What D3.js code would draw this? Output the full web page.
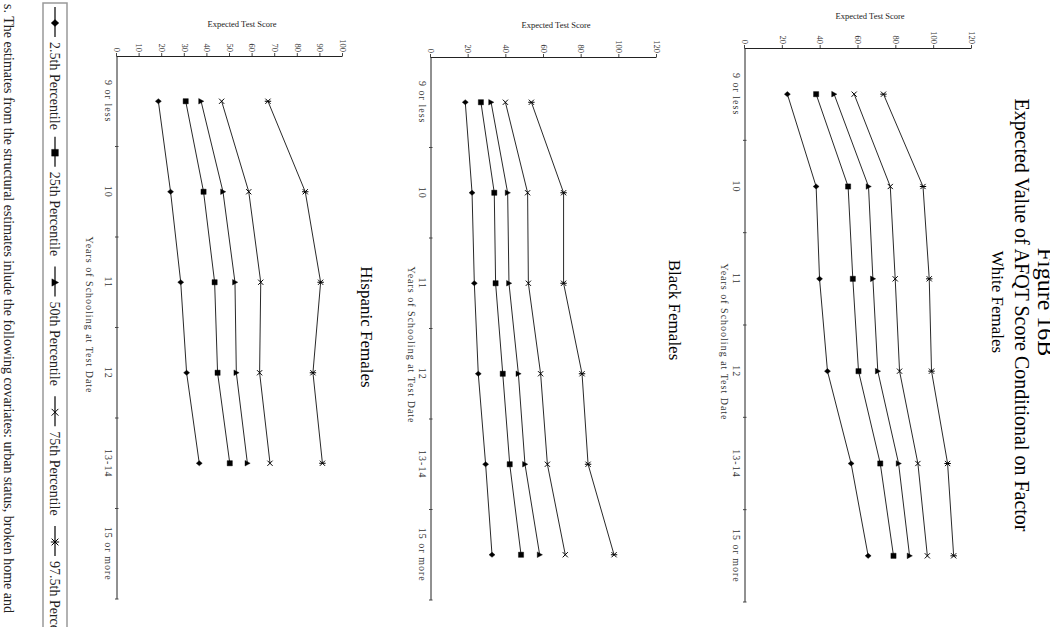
<!DOCTYPE html>
<html>
<head>
<meta charset="utf-8">
<script src="https://cdn.jsdelivr.net/npm/d3@7"></script>
<style>
  html, body { margin: 0; padding: 0; background: #fff; }
  svg { display: block; font-family: "Liberation Serif", "Times New Roman", serif; }
</style>
</head>
<body>
<div id="chart"></div>
<script>
// categories and series (expected AFQT score by years of schooling)
const years = ["9 or less", "10", "11", "12", "13-14", "15 or more"];
const percentiles = ["2.5th Percentile", "25th Percentile", "50th Percentile", "75th Percentile", "97.5th Percentile"];

const whiteScores = [
  [22.4, 37.6, 39.4, 43.6, 56.1, 65.1],
  [37.6, 54.5, 57.0, 60.0, 71.5, 78.5],
  [47.1, 65.3, 67.6, 70.2, 81.2, 87.0],
  [57.7, 76.8, 79.4, 81.7, 91.4, 96.4],
  [73.2, 94.1, 97.4, 98.6, 107.1, 110.3]
];
const blackScores = [
  [18.2, 21.8, 23.0, 25.1, 29.0, 32.4],
  [26.5, 33.6, 34.3, 38.1, 41.8, 47.8],
  [31.9, 40.7, 41.4, 46.4, 49.9, 57.7],
  [39.5, 51.3, 51.7, 58.2, 61.8, 71.3],
  [53.3, 70.4, 70.4, 80.2, 83.4, 97.2]
];
// no value for "15 or more"
const hispanicScores = [
  [18.3, 23.7, 28.2, 30.8, 36.4],
  [30.4, 38.3, 43.2, 44.5, 49.9],
  [37.2, 46.9, 52.2, 52.8, 57.7],
  [46.3, 58.3, 63.6, 63.1, 67.7],
  [66.8, 83.3, 90.1, 86.7, 90.9]
];

const ticks120 = [0, 20, 40, 60, 80, 100, 120];
const ticks100 = [0, 10, 20, 30, 40, 50, 60, 70, 80, 90, 100];

// page is drawn upright then turned 90deg clockwise
const pageW = 627, pageH = 1050;

const svg = d3.select("#chart")
  .append("svg")
  .attr("width", 1050)
  .attr("height", 627);

const page = svg.append("g")
  .attr("transform", `translate(${pageH}, 0) rotate(90)`);

// heading
page.append("text")
  .attr("x", 302).attr("y", 12)
  .attr("text-anchor", "middle")
  .style("font-size", "24px")
  .text("Figure 16B");
page.append("text")
  .attr("x", 315).attr("y", 35)
  .attr("text-anchor", "middle")
  .style("font-size", "20px")
  .text("Expected Value of AFQT Score Conditional on Factor");

// panel layout (page coordinates)
const panels = [
  { title: "White Females", data: whiteScores, ticks: ticks120,
    left: 48, right: 602, bottom: 305, top: 78,
    titleX: 302, titleY: 58, xLabelX: 342, xLabelDy: 24 },
  { title: "Black Females", data: blackScores, ticks: ticks120,
    left: 57, right: 600, bottom: 619, top: 393,
    titleX: 310, titleY: 381, xLabelX: 345, xLabelDy: 23 },
  { title: "Hispanic Females", data: hispanicScores, ticks: ticks100,
    left: 56, right: 599, bottom: 933, top: 707,
    titleX: 327, titleY: 689, xLabelX: 315, xLabelDy: 31 }
];

// marker shapes for each percentile
function drawMarker(sel, k, s) {
  const paths = [
    `M0,${-3 * s}L${2.6 * s},0L0,${3 * s}L${-2.6 * s},0Z`,
    `M${-2.6 * s},${-2.6 * s}h${5.2 * s}v${5.2 * s}h${-5.2 * s}Z`,
    `M0,${-2.8 * s}L${2.8 * s},${2.4 * s}L${-2.8 * s},${2.4 * s}Z`,
    `M${-2.6 * s},${-2.6 * s}L${2.6 * s},${2.6 * s}M${-2.6 * s},${2.6 * s}L${2.6 * s},${-2.6 * s}`,
    `M${-2.6 * s},${-2.6 * s}L${2.6 * s},${2.6 * s}M${-2.6 * s},${2.6 * s}L${2.6 * s},${-2.6 * s}M0,${-3.2 * s}L0,${3.2 * s}`
  ];
  const filled = k < 3;
  sel.append("path")
    .attr("d", paths[k])
    .attr("fill", filled ? "#000" : "none")
    .attr("stroke", "#000")
    .attr("stroke-width", filled ? 0.4 : 1);
}

panels.forEach(p => {
  const maxV = p.ticks[p.ticks.length - 1];
  const x = d3.scaleBand().domain(years).range([p.left, p.right]);
  const y = d3.scaleLinear().domain([0, maxV]).range([p.bottom, p.top]);
  const g = page.append("g");

  // panel title
  page.append("text")
    .attr("x", p.titleX).attr("y", p.titleY)
    .attr("text-anchor", "middle")
    .style("font-size", "17px")
    .text(p.title);

  // value axis
  const yAxis = g.append("g")
    .attr("transform", `translate(${p.left}, 0)`)
    .call(d3.axisLeft(y).tickValues(p.ticks).tickSize(3).tickSizeOuter(0).tickPadding(1));
  yAxis.select(".domain").attr("stroke", "#222");
  yAxis.selectAll(".tick line").attr("stroke", "#444");
  yAxis.selectAll("text")
    .style("font-family", "Liberation Serif, serif")
    .style("font-size", "8.5px")
    .attr("fill", "#333");

  g.append("text")
    .attr("transform", `translate(${p.left - 29}, ${p.bottom - 125}) rotate(-90)`)
    .attr("text-anchor", "middle")
    .style("font-size", "8.5px")
    .attr("fill", "#222")
    .text("Expected Test Score");

  // category axis
  g.append("line")
    .attr("x1", p.left).attr("x2", p.right)
    .attr("y1", p.bottom).attr("y2", p.bottom)
    .attr("stroke", "#222");
  const bounds = years.slice(1).map(d => x(d)).concat([x.range()[1]]);
  g.selectAll(".xtick")
    .data(bounds)
    .enter().append("line")
    .attr("x1", d => d).attr("x2", d => d)
    .attr("y1", p.bottom - 1.5).attr("y2", p.bottom + 2)
    .attr("stroke", "#444");
  g.selectAll(".xlabel")
    .data(years)
    .enter().append("text")
    .attr("x", d => x(d) + x.bandwidth() / 2)
    .attr("y", p.bottom + 12)
    .attr("text-anchor", "middle")
    .style("font-size", "10px")
    .style("letter-spacing", "1px")
    .attr("fill", "#333")
    .text(d => d);

  g.append("text")
    .attr("x", p.xLabelX)
    .attr("y", p.bottom + p.xLabelDy)
    .attr("text-anchor", "middle")
    .style("font-size", "10px")
    .style("letter-spacing", "1px")
    .attr("fill", "#333")
    .text("Years of Schooling at Test Date");

  // series lines and markers
  const line = d3.line()
    .x((d, i) => x(years[i]) + x.bandwidth() / 2)
    .y(d => y(d));

  p.data.forEach((series, k) => {
    g.append("path")
      .datum(series)
      .attr("fill", "none")
      .attr("stroke", "#111")
      .attr("stroke-width", 0.9)
      .attr("d", line);

    series.forEach((v, i) => {
      const m = g.append("g")
        .attr("transform", `translate(${x(years[i]) + x.bandwidth() / 2}, ${y(v)})`);
      drawMarker(m, k, 1);
    });
  });
});

// legend box along the bottom of the page
const legend = page.append("g");
legend.append("rect")
  .attr("x", 3).attr("y", 983)
  .attr("width", 700).attr("height", 24)
  .attr("fill", "none")
  .attr("stroke", "#999")
  .attr("stroke-width", 1.5);

percentiles.forEach((name, k) => {
  const m = 23 + k * 129.75;
  legend.append("line")
    .attr("x1", m - 16).attr("x2", m + 14)
    .attr("y1", 995).attr("y2", 995)
    .attr("stroke", "#000")
    .attr("stroke-width", 1.2);
  const mk = legend.append("g").attr("transform", `translate(${m}, 995)`);
  drawMarker(mk, k, 1.3);
  legend.append("text")
    .attr("x", m + 19).attr("y", 1000)
    .style("font-size", "14px")
    .attr("fill", "#222")
    .text(name);
});

// footnote line, cut by the page edge
page.append("text")
  .attr("x", 4).attr("y", 1046)
  .style("font-size", "14px")
  .attr("fill", "#222")
  .text("s. The estimates from the structural estimates inlude the following covariates: urban status, broken home and");
</script>
</body>
</html>
